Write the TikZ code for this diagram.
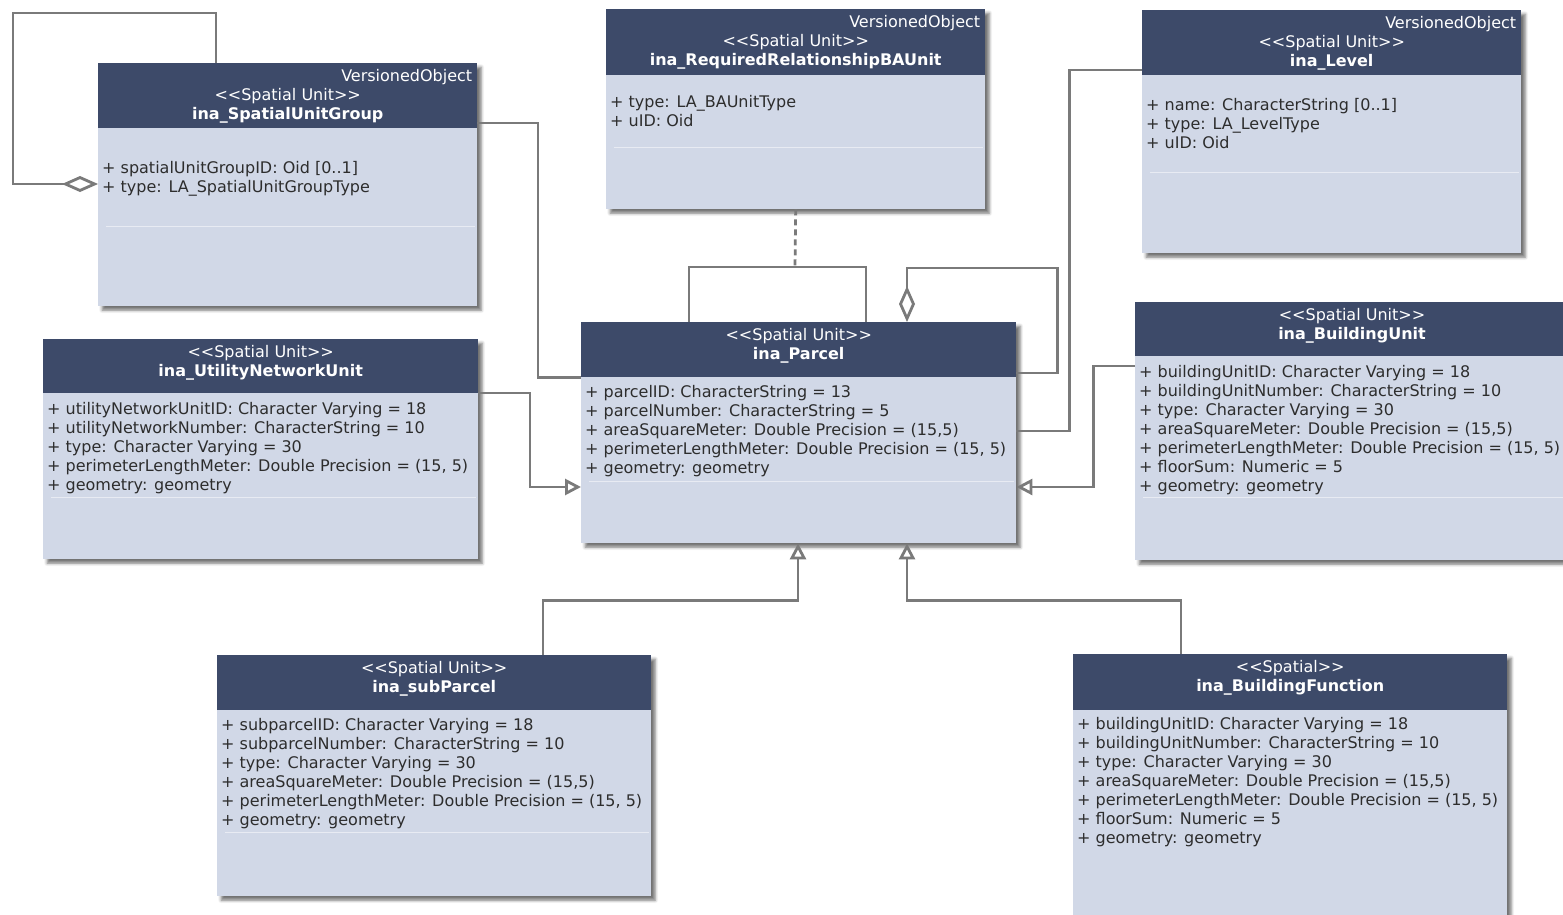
\documentclass[tikz,border=0pt]{standalone}
\usepackage{fontspec}
\setmainfont{DejaVu Sans}
\usetikzlibrary{arrows.meta,calc,shadows.blur}
\definecolor{headcol}{RGB}{61,74,105}
\definecolor{bodycol}{RGB}{209,216,231}
\definecolor{linecol}{RGB}{122,122,122}
\definecolor{attrcol}{RGB}{45,45,45}
\newcommand{\umlfont}{\fontsize{16}{19}\selectfont}
\newcommand{\stereo}[1]{<\kern0pt<#1>\kern0pt>}

\tikzset{
  classbox/.style={rectangle, fill=bodycol, inner sep=0pt, anchor=north west,
    blur shadow={shadow xshift=4pt, shadow yshift=-4pt, shadow blur radius=3pt, shadow opacity=55}},
  classhead/.style={rectangle, fill=headcol, inner sep=0pt, anchor=north west},
  classtitle/.style={anchor=north, align=center, inner sep=0pt, text=white, font=\umlfont},
  versioned/.style={anchor=north east, inner sep=0pt, text=white, font=\umlfont},
  attrs/.style={anchor=north west, align=left, inner sep=0pt, text=attrcol, font=\umlfont},
  divider/.style={draw=white, opacity=0.5, line width=1pt},
  assoc/.style={draw=linecol, line width=2.8pt},
  gen/.style={assoc, -{Triangle[open, length=16pt, width=16pt]}},
  aggr/.style={assoc, -{Diamond[open, length=36pt, width=16pt]}},
}

\begin{document}
\begin{tikzpicture}[x=1pt, y=-1pt]
\useasboundingbox (0,0) rectangle (1563,915);
\clip (0,0) rectangle (1563,915);

% ina_SpatialUnitGroup
\node[classbox, minimum width=379pt, minimum height=243pt] (grp) at (98,63) {};
\node[classhead, minimum width=379pt, minimum height=65pt] (grp-h) at (grp.north west) {};
\node[versioned] (grp-v) at ($(grp-h.north east)+(-5,5)$) {\strut VersionedObject};
\node[classtitle] (grp-t) at ($(grp-h.north)+(0,24)$) {\strut\stereo{Spatial Unit}\\\textbf{ina\_SpatialUnitGroup}};
\node[attrs] (grp-a) at ($(grp-h.south west)+(4,32)$) {\strut + spatialUnitGroupID: Oid [0..1]\\+ type: LA\_SpatialUnitGroupType};
\draw[divider] ($(grp.north west)+(8,163)$) -- ($(grp.north east)+(-2,163)$);

% ina_RequiredRelationshipBAUnit
\node[classbox, minimum width=379pt, minimum height=200pt] (rrba) at (606,9) {};
\node[classhead, minimum width=379pt, minimum height=66pt] (rrba-h) at (rrba.north west) {};
\node[versioned] (rrba-v) at ($(rrba-h.north east)+(-5,5)$) {\strut VersionedObject};
\node[classtitle] (rrba-t) at ($(rrba-h.north)+(0,24)$) {\strut\stereo{Spatial Unit}\\\textbf{ina\_RequiredRelationshipBAUnit}};
\node[attrs] (rrba-a) at ($(rrba-h.south west)+(4,19)$) {\strut + type: LA\_BAUnitType\\+ uID: Oid};
\draw[divider] ($(rrba.north west)+(8,139)$) -- ($(rrba.north east)+(-2,139)$);

% ina_Level
\node[classbox, minimum width=379pt, minimum height=243pt] (lvl) at (1142,10) {};
\node[classhead, minimum width=379pt, minimum height=65pt] (lvl-h) at (lvl.north west) {};
\node[versioned] (lvl-v) at ($(lvl-h.north east)+(-5,5)$) {\strut VersionedObject};
\node[classtitle] (lvl-t) at ($(lvl-h.north)+(0,24)$) {\strut\stereo{Spatial Unit}\\\textbf{ina\_Level}};
\node[attrs] (lvl-a) at ($(lvl-h.south west)+(4,22)$) {\strut + name: CharacterString [0..1]\\+ type: LA\_LevelType\\+ uID: Oid};
\draw[divider] ($(lvl.north west)+(8,162)$) -- ($(lvl.north east)+(-2,162)$);

% ina_UtilityNetworkUnit
\node[classbox, minimum width=435pt, minimum height=220pt] (unu) at (43,339) {};
\node[classhead, minimum width=435pt, minimum height=54pt] (unu-h) at (unu.north west) {};
\node[classtitle] (unu-t) at ($(unu-h.north)+(0,5)$) {\strut\stereo{Spatial Unit}\\\textbf{ina\_UtilityNetworkUnit}};
\node[attrs] (unu-a) at ($(unu-h.south west)+(4,8)$) {\strut + utilityNetworkUnitID: Character Varying = 18\\+ utilityNetworkNumber: CharacterString = 10\\+ type: Character Varying = 30\\+ perimeterLengthMeter: Double Precision = (15, 5)\\+ geometry: geometry};
\draw[divider] ($(unu.north west)+(8,158)$) -- ($(unu.north east)+(-2,158)$);

% ina_Parcel
\node[classbox, minimum width=435pt, minimum height=221pt] (parc) at (581,322) {};
\node[classhead, minimum width=435pt, minimum height=55pt] (parc-h) at (parc.north west) {};
\node[classtitle] (parc-t) at ($(parc-h.north)+(0,5)$) {\strut\stereo{Spatial Unit}\\\textbf{ina\_Parcel}};
\node[attrs] (parc-a) at ($(parc-h.south west)+(4,7)$) {\strut + parcelID: CharacterString = 13\\+ parcelNumber: CharacterString = 5\\+ areaSquareMeter: Double Precision = (15,5)\\+ perimeterLengthMeter: Double Precision = (15, 5)\\+ geometry: geometry};
\draw[divider] ($(parc.north west)+(8,159)$) -- ($(parc.north east)+(-2,159)$);

% ina_BuildingUnit
\node[classbox, minimum width=440pt, minimum height=258pt] (bu) at (1135,302) {};
\node[classhead, minimum width=440pt, minimum height=54pt] (bu-h) at (bu.north west) {};
\node[classtitle] (bu-t) at ($(bu-h.north west)+(217,5)$) {\strut\stereo{Spatial Unit}\\\textbf{ina\_BuildingUnit}};
\node[attrs] (bu-a) at ($(bu-h.south west)+(4,8)$) {\strut + buildingUnitID: Character Varying = 18\\+ buildingUnitNumber: CharacterString = 10\\+ type: Character Varying = 30\\+ areaSquareMeter: Double Precision = (15,5)\\+ perimeterLengthMeter: Double Precision = (15, 5)\\+ floorSum: Numeric = 5\\+ geometry: geometry};
\draw[divider] ($(bu.north west)+(8,195)$) -- ($(bu.north east)+(-2,195)$);

% ina_subParcel
\node[classbox, minimum width=434pt, minimum height=241pt] (sub) at (217,655) {};
\node[classhead, minimum width=434pt, minimum height=55pt] (sub-h) at (sub.north west) {};
\node[classtitle] (sub-t) at ($(sub-h.north)+(0,5)$) {\strut\stereo{Spatial Unit}\\\textbf{ina\_subParcel}};
\node[attrs] (sub-a) at ($(sub-h.south west)+(4,7)$) {\strut + subparcelID: Character Varying = 18\\+ subparcelNumber: CharacterString = 10\\+ type: Character Varying = 30\\+ areaSquareMeter: Double Precision = (15,5)\\+ perimeterLengthMeter: Double Precision = (15, 5)\\+ geometry: geometry};
\draw[divider] ($(sub.north west)+(8,177)$) -- ($(sub.north east)+(-2,177)$);

% ina_BuildingFunction
\node[classbox, minimum width=434pt, minimum height=270pt] (bf) at (1073,654) {};
\node[classhead, minimum width=434pt, minimum height=56pt] (bf-h) at (bf.north west) {};
\node[classtitle] (bf-t) at ($(bf-h.north)+(0,5)$) {\strut\stereo{Spatial}\\\textbf{ina\_BuildingFunction}};
\node[attrs] (bf-a) at ($(bf-h.south west)+(4,6)$) {\strut + buildingUnitID: Character Varying = 18\\+ buildingUnitNumber: CharacterString = 10\\+ type: Character Varying = 30\\+ areaSquareMeter: Double Precision = (15,5)\\+ perimeterLengthMeter: Double Precision = (15, 5)\\+ floorSum: Numeric = 5\\+ geometry: geometry};

% connectors
\coordinate (grp-loop) at (13,13);
\draw[aggr] ($(grp.north west)+(118,0)$) |- (grp-loop) |- ($(grp.north west)+(0,121)$);
\draw[assoc] ($(grp.north east)+(0,60)$) -| ($(parc-h.south west)+(-43,0)$) -- (parc-h.south west);
\draw[assoc] ($(parc.north west)+(108,0)$) -- ++(0,-55) -| ($(parc.north west)+(285,0)$);
\coordinate (parc-mid) at ($(parc.north west)+(214,-55)$);
\draw[draw=linecol, line width=2.8pt, dash pattern=on 6pt off 4pt] (rrba.south) -- (parc-mid);
\draw[aggr] ($(parc.north east)+(0,51)$) -- ++(41,0) |- ($(parc.north west)+(326,-54)$) -- ($(parc.north west)+(326,0)$);
\draw[assoc] ($(lvl.north west)+(0,60)$) -| ($(parc.north east)+(53,109)$) -- ($(parc.north east)+(0,109)$);
\draw[gen] ($(bu.north west)+(0,64)$) -| ($(parc.north east)+(77,165)$) -- ($(parc.north east)+(0,165)$);
\draw[gen] ($(unu.north east)+(0,54)$) -| ($(parc.north west)+(-51,165)$) -- ($(parc.north west)+(0,165)$);
\draw[gen] ($(sub.north west)+(326,0)$) |- ($(parc.south west)+(217,57)$) -- ($(parc.south west)+(217,0)$);
\draw[gen] ($(bf.north west)+(108,0)$) |- ($(parc.south west)+(326,57)$) -- ($(parc.south west)+(326,0)$);
\end{tikzpicture}
\end{document}
